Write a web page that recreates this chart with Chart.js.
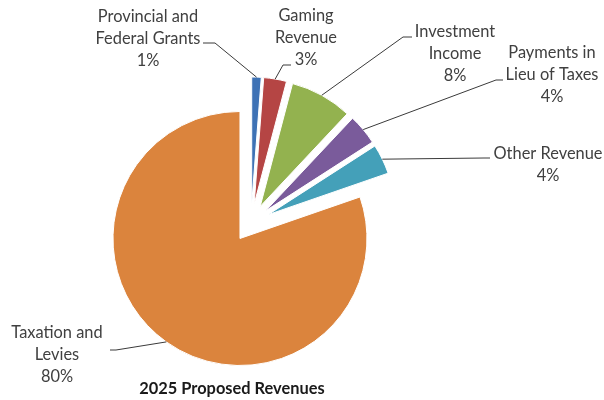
<!DOCTYPE html>
<html>
<head>
<meta charset="utf-8">
<script src="https://cdn.jsdelivr.net/npm/chart.js@4"></script>
<style>
  html, body { margin: 0; padding: 0; background: #fff; }
</style>
</head>
<body>
<canvas id="grafica" width="604" height="400"></canvas>
<script>
// Datos del gráfico
const categorias = ['Provincial and Federal Grants', 'Gaming Revenue', 'Investment Income',
                    'Payments in Lieu of Taxes', 'Other Revenue', 'Taxation and Levies'];
const lineasEtiqueta = [['Provincial and', 'Federal Grants'], ['Gaming', 'Revenue'], ['Investment', 'Income'],
                        ['Payments in', 'Lieu of Taxes'], ['Other Revenue'], ['Taxation and', 'Levies']];
const valores = [1.2, 2.9, 7.9, 3.9, 3.8, 80.3];
const titulo = '2025 Proposed Revenues';

const colores = ['#3E72B5', '#B54544', '#93B24F', '#7A5B9B', '#44A0B9', '#DB843D'];

// Posición de las etiquetas (centro del texto, fin de la línea guía y codo)
const posEtiquetas = [
    { x: 148, y: 17, ex: 203, ey: 43, codo: 215 },
    { x: 306, y: 16, ex: 291, ey: 65, codo: 283 },
    { x: 455, y: 32, ex: 412, ey: 37, codo: 403 },
    { x: 552, y: 53, ex: 503, ey: 80, codo: 496 },
    { x: 548, y: 154, ex: 490, ey: 158, codo: 484 },
    { x: 57, y: 333, ex: 110, ey: 350, codo: 116 }
];

const SEPARACION = 19; // px que se separa cada porción del centro
const FUENTE = 'Lato, "Open Sans", sans-serif';

const total = valores.reduce((a, b) => a + b, 0);

// Dibuja cada porción desplazada a lo largo de su bisectriz (como "explode" de Excel)
const separarPlugin = {
    id: 'separar',
    beforeDatasetsDraw(chart) {
        const ctx = chart.ctx;
        chart.getDatasetMeta(0).data.forEach(arco => {
            const medio = (arco.startAngle + arco.endAngle) / 2;
            ctx.save();
            ctx.translate(Math.cos(medio) * SEPARACION, Math.sin(medio) * SEPARACION);
            arco.draw(ctx);
            ctx.restore();
        });
        return false;
    }
};

const etiquetasPlugin = {
    id: 'etiquetas',
    afterDraw(chart) {
        const ctx = chart.ctx;
        const arcos = chart.getDatasetMeta(0).data;
        ctx.save();
        arcos.forEach((arco, i) => {
            const p = arco.getProps(['x', 'y', 'startAngle', 'endAngle', 'outerRadius'], true);
            const medio = (p.startAngle + p.endAngle) / 2;
            const ax = p.x + Math.cos(medio) * (p.outerRadius + SEPARACION);
            const ay = p.y + Math.sin(medio) * (p.outerRadius + SEPARACION);
            const pos = posEtiquetas[i];

            ctx.strokeStyle = '#3a3a3a';
            ctx.lineWidth = 1;
            ctx.beginPath();
            ctx.moveTo(ax, ay);
            ctx.lineTo(pos.codo, pos.ey);
            ctx.lineTo(pos.ex, pos.ey);
            ctx.stroke();

            const lineas = lineasEtiqueta[i].concat([Math.round(valores[i] / total * 100) + '%']);
            ctx.fillStyle = '#404040';
            ctx.font = '16.4px ' + FUENTE;
            ctx.textAlign = 'center';
            ctx.textBaseline = 'middle';
            lineas.forEach((l, j) => ctx.fillText(l, pos.x, pos.y + j * 22));
        });

        ctx.fillStyle = '#1a1a1a';
        ctx.font = 'bold 16.4px ' + FUENTE;
        ctx.textAlign = 'center';
        ctx.textBaseline = 'middle';
        ctx.fillText(titulo, 232, 389);
        ctx.restore();
    }
};

const ctx = document.getElementById('grafica').getContext('2d');

const miGrafica = new Chart(ctx, {
    type: 'pie',
    data: {
        labels: categorias,
        datasets: [{
            data: valores,
            backgroundColor: colores,
            borderColor: '#ffffff',
            borderWidth: 1,
            hoverOffset: 0,
            radius: 127
        }]
    },
    options: {
        responsive: false,
        animation: false,
        events: [],
        layout: { padding: { left: 0, right: 102, top: 46, bottom: 0 } },
        plugins: {
            legend: { display: false },
            tooltip: { enabled: false },
            title: { display: false }
        }
    },
    plugins: [separarPlugin, etiquetasPlugin]
});
</script>
</body>
</html>
